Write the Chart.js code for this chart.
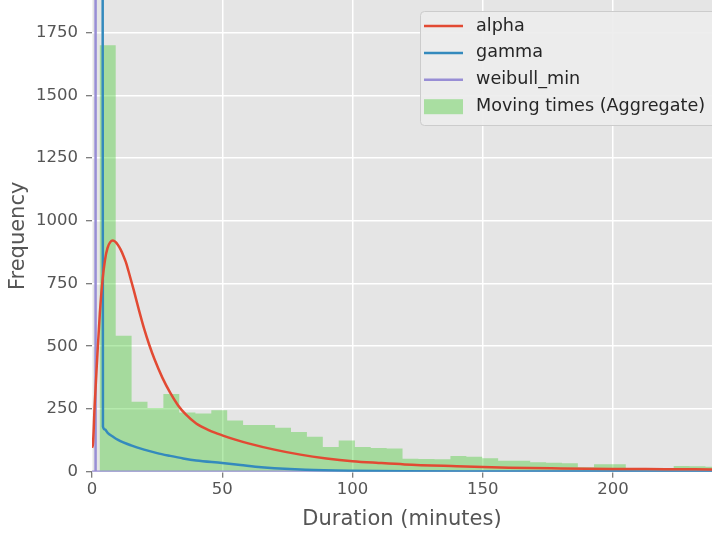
<!DOCTYPE html>
<html>
<head>
<meta charset="utf-8">
<script src="https://cdn.jsdelivr.net/npm/chart.js@4/dist/chart.umd.min.js"></script>
<style>
  body { margin: 0; background: #fff; }
  #wrap { width: 712px; height: 535px; }
</style>
</head>
<body>
<div id="wrap"><canvas id="chart" width="712" height="535"></canvas></div>
<script>
// histogram bins (minutes) and counts
const binEdges = [2.9, 9.1, 15.2, 21.3, 27.4, 33.5, 39.7, 45.8, 51.9, 58.0, 64.1, 70.3, 76.4, 82.5, 88.6, 94.7, 100.9, 107.0, 113.1, 119.2, 125.3, 131.5, 137.6, 143.7, 149.8, 155.9, 162.1, 168.2, 174.3, 180.4, 186.5, 192.7, 198.8, 204.9, 211.0, 217.1, 223.3, 229.4, 235.5, 241.6];
const movingCounts = [1700, 542, 279, 254, 310, 236, 232, 245, 204, 186, 186, 175, 158, 139, 98, 124, 98, 94, 92, 52, 51, 50, 63, 60, 54, 44, 44, 38, 36, 34, 18, 30, 30, 14, 13, 12, 23, 22, 20];

// fitted curves
const alphaX = [0, 0.4, 1, 2, 3, 4, 5, 6, 7, 8, 9, 10, 11, 12, 13, 14, 16, 18, 20, 22, 24, 27, 30, 33, 36, 40, 45, 50, 55, 60, 70, 80, 90, 100, 110, 120, 140, 160, 180, 200, 220, 238];
const alphaY = [95, 115, 260, 454, 630, 760, 845, 893, 915, 921, 916, 903, 885, 862, 835, 800, 725, 645, 570, 505, 448, 375, 315, 265, 228, 192, 165, 145, 128, 113, 88, 68, 53, 42, 35, 29, 22, 16, 13, 11, 10, 9];

const gammaX = [4.1, 4.2, 5, 6, 8, 10, 15, 20, 25, 30, 35, 40, 50, 57, 65, 70, 82, 100, 120, 150, 200, 238];
const gammaY = [1900, 180, 168, 155, 140, 127, 105, 88, 74, 63, 53, 45, 35, 27, 18, 14, 8, 4, 2, 1, 0.3, 0.1];

const weibullX = [0, 1.2, 1.3, 1.45, 238];
const weibullY = [0, 0, 2600, 0, 0];

const xTicks = [0, 50, 100, 150, 200];
const yTicks = [0, 250, 500, 750, 1000, 1250, 1500, 1750];

const toPoints = (xs, ys) => xs.map((x, i) => ({ x: x, y: ys[i] }));

// stepped outline for the histogram: each bin's left edge carries its count,
// the outline starts and ends on the baseline
const histPoints = movingCounts.map((c, i) => ({ x: binEdges[i], y: c }));
histPoints.unshift({ x: binEdges[0], y: 0 });
histPoints.push({ x: binEdges[binEdges.length - 1], y: 0 });

const bgPlugin = {
  id: 'bg',
  beforeDraw(chart) {
    const { ctx, chartArea: a } = chart;
    ctx.save();
    ctx.fillStyle = '#E5E5E5';
    ctx.fillRect(a.left, a.top, a.right - a.left, a.bottom - a.top);
    ctx.restore();
  }
};

// legend drawn inside the plot, like matplotlib's upper right legend
const legendPlugin = {
  id: 'mplLegend',
  afterDraw(chart) {
    const ctx = chart.ctx;
    const x0 = 420.5, y0 = 11.5, w = 300, h = 114;
    ctx.save();
    ctx.fillStyle = 'rgba(236,236,236,0.9)';
    ctx.strokeStyle = '#cccccc';
    ctx.lineWidth = 1;
    ctx.beginPath();
    ctx.roundRect(x0, y0, w, h, 4);
    ctx.fill();
    ctx.stroke();
    ctx.font = '17.6px "DejaVu Sans"';
    ctx.textBaseline = 'middle';
    chart.data.datasets.forEach((ds, i) => {
      const cy = 26 + i * 26.9;
      if (ds.fill) {
        ctx.fillStyle = ds.backgroundColor;
        ctx.fillRect(424, cy - 7.5, 39, 15);
      } else {
        ctx.strokeStyle = ds.borderColor;
        ctx.lineWidth = 2.5;
        ctx.beginPath();
        ctx.moveTo(424, cy);
        ctx.lineTo(463, cy);
        ctx.stroke();
      }
      ctx.fillStyle = '#262626';
      ctx.fillText(ds.label, 476, cy);
    });
    ctx.restore();
  }
};

const ctx = document.getElementById('chart').getContext('2d');
const chart = new Chart(ctx, {
  type: 'line',
  data: {
    datasets: [
      {
        label: 'alpha',
        data: toPoints(alphaX, alphaY),
        borderColor: '#E24A33',
        borderWidth: 2.5,
        pointRadius: 0,
        cubicInterpolationMode: 'monotone',
        fill: false
      },
      {
        label: 'gamma',
        data: toPoints(gammaX, gammaY),
        borderColor: '#348ABD',
        borderWidth: 2.5,
        pointRadius: 0,
        cubicInterpolationMode: 'monotone',
        fill: false
      },
      {
        label: 'weibull_min',
        data: toPoints(weibullX, weibullY),
        borderColor: '#988ED5',
        borderWidth: 2.5,
        pointRadius: 0,
        tension: 0,
        fill: false
      },
      {
        label: 'Moving times (Aggregate)',
        data: histPoints,
        stepped: 'before',
        borderWidth: 0,
        borderColor: 'rgba(0,0,0,0)',
        backgroundColor: 'rgba(60,200,40,0.38)',
        pointRadius: 0,
        fill: 'origin'
      }
    ]
  },
  options: {
    responsive: false,
    devicePixelRatio: 1,
    animation: false,
    layout: { padding: 0 },
    plugins: {
      legend: { display: false },
      tooltip: { enabled: false }
    },
    scales: {
      x: {
        type: 'linear',
        min: 0,
        max: 238,
        afterFit: (s) => { s.height = 63.3; s.paddingLeft = 0; s.paddingRight = 0; },
        afterBuildTicks: (s) => { s.ticks = xTicks.map(v => ({ value: v })); },
        ticks: {
          color: '#555555',
          font: { family: 'DejaVu Sans', size: 16.5 },
          padding: 2,
          maxRotation: 0,
          callback: (v) => String(v)
        },
        grid: {
          color: '#ffffff',
          lineWidth: 1.5,
          tickColor: '#555555',
          tickLength: 6,
          tickWidth: 1
        },
        border: { display: false },
        title: {
          display: true,
          text: 'Duration (minutes)',
          color: '#555555',
          font: { family: 'DejaVu Sans', size: 21 },
          padding: { top: 0, bottom: 3 }
        }
      },
      y: {
        min: 0,
        max: 1880,
        afterFit: (s) => { s.width = 92; s.paddingTop = 0; s.paddingBottom = 0; },
        afterBuildTicks: (s) => { s.ticks = yTicks.map(v => ({ value: v })); },
        ticks: {
          color: '#555555',
          font: { family: 'DejaVu Sans', size: 16.5 },
          padding: 8,
          callback: (v) => String(v)
        },
        grid: {
          color: '#ffffff',
          lineWidth: 1.5,
          tickColor: '#555555',
          tickLength: 6,
          tickWidth: 1
        },
        border: { display: false },
        title: {
          display: true,
          text: 'Frequency',
          color: '#555555',
          font: { family: 'DejaVu Sans', size: 21 },
          padding: { top: 6, bottom: 0 }
        }
      }
    }
  },
  plugins: [bgPlugin, legendPlugin]
});
</script>
</body>
</html>
